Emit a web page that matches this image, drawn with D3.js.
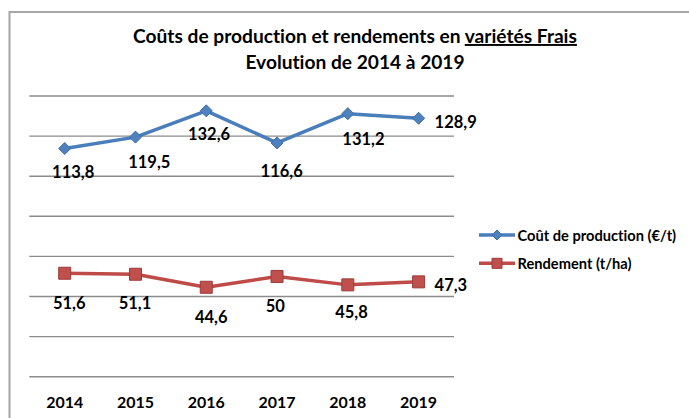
<!DOCTYPE html>
<html><head><meta charset="utf-8">
<script src="https://cdn.jsdelivr.net/npm/d3@7"></script>
<style>body{margin:0;background:#fff}svg{display:block}text{font-family:Lato,"Open Sans",sans-serif;font-weight:bold;fill:#000;font-variant-ligatures:none;font-feature-settings:"liga" 0}</style>
</head><body><svg id="c" width="689" height="418"></svg>
<script>
const years = ["2014","2015","2016","2017","2018","2019"];
const cost = [113.8,119.5,132.6,116.6,131.2,128.9];
const yieldV = [51.6,51.1,44.6,50,45.8,47.3];
const yTicks = [0,20,40,60,80,100,120,140];
const seriesNames = ["Coût de production (€/t)","Rendement (t/ha)"];
const titleLine1a = "Coûts de production et rendements en ";
const titleLine1b = "variétés Frais";
const titleLine2 = "Evolution de 2014 à 2019";
// label nudges (layout only)
const costNudge = [[8.5,23],[13.8,25],[2.8,23.6],[4.6,27.6],[15.6,25.3]];
const yieldNudge = [[4.5,30],[-0.5,29],[5,29.4],[-1.7,29.7],[3.6,26.7]];

const svg = d3.select("#c");
const fmt = v => String(v).replace(".", ",");
function fit(sel, target){
  sel.style("font-size","20px");
  const w = sel.node().getComputedTextLength();
  sel.style("font-size", (20*target/w).toFixed(2)+"px");
}

// frame
svg.append("rect").attr("x",9.5).attr("y",12).attr("width",900).attr("height",600)
  .attr("fill","none").attr("stroke","#a6a6a6").attr("stroke-width",2);

const x = d3.scaleBand().domain(years).range([29.3,454]).padding(0);
const y = d3.scaleLinear().domain([0,140]).range([376.7,96]);
const cx = d => x(d)+x.bandwidth()/2;

// gridlines
svg.append("g").selectAll("line").data(yTicks).join("line")
  .attr("x1",x.range()[0]).attr("x2",x.range()[1])
  .attr("y1",d=>y(d)).attr("y2",d=>y(d))
  .attr("stroke","#8c8c8c").attr("stroke-width",1.4);

// x axis labels
const xa = svg.append("g").attr("transform","translate(0,407.5)")
  .call(d3.axisBottom(x).tickSize(0).tickPadding(0));
xa.select(".domain").remove();
xa.selectAll("text").attr("dy",0).style("font-family","Lato").style("font-weight","bold").style("fill","#000");
xa.selectAll("text").each(function(){ fit(d3.select(this), 37); });

// title
const t1 = svg.append("text").attr("x",355).attr("y",43).attr("text-anchor","middle");
t1.append("tspan").text(titleLine1a);
t1.append("tspan").attr("text-decoration","underline").style("text-decoration","underline").text(titleLine1b);
fit(t1, 444);
const t2 = svg.append("text").attr("x",355).attr("y",69).attr("text-anchor","middle").text(titleLine2)
  .style("font-size", t1.style("font-size"));

const line = d3.line().x((d,i)=>cx(years[i])).y(d=>y(d));
const blue = "#4A7EBB", red = "#BE4B48";
const diamond = (px,py,r) => `M${px},${py-r}L${px+r},${py}L${px},${py+r}L${px-r},${py}Z`;
const square = (px,py,r) => `M${px-r},${py-r}h${2*r}v${2*r}h${-2*r}Z`;

svg.append("path").datum(cost).attr("d",line).attr("fill","none").attr("stroke",blue).attr("stroke-width",3.5).attr("stroke-linejoin","round");
svg.append("g").selectAll("path").data(cost).join("path")
  .attr("d",(d,i)=>diamond(cx(years[i]),y(d),6)).attr("fill","#4F81BD").attr("stroke","#3D6BA5").attr("stroke-width",1);

svg.append("path").datum(yieldV).attr("d",line).attr("fill","none").attr("stroke",red).attr("stroke-width",3.5).attr("stroke-linejoin","round");
svg.append("g").selectAll("path").data(yieldV).join("path")
  .attr("d",(d,i)=>square(cx(years[i]),y(d),6)).attr("fill","#C0504D").attr("stroke","#9C3B38").attr("stroke-width",1);

// data labels
function labels(vals, nudge){
  const g = svg.append("g");
  vals.forEach((v,i)=>{
    const px = cx(years[i]), py = y(v);
    const t = g.append("text").text(fmt(v)).attr("dominant-baseline","central").style("font-size","16.5px");
    if(i < nudge.length){
      t.attr("x",px+nudge[i][0]).attr("y",py+nudge[i][1]).attr("text-anchor","middle");
    } else {
      t.attr("x",px+16).attr("y",py+3.4).attr("text-anchor","start");
    }
  });
}
labels(cost, costNudge);
labels(yieldV, yieldNudge);

// legend
const lg = svg.append("g");
const legY = [235, 263.3];
const cols = [blue, red];
seriesNames.forEach((n,i)=>{
  lg.append("line").attr("x1",479).attr("x2",515).attr("y1",legY[i]).attr("y2",legY[i]).attr("stroke",cols[i]).attr("stroke-width",3.5);
  lg.append("path").attr("d", i===0 ? diamond(497,legY[i],5) : square(497,legY[i],5))
    .attr("fill", i===0?"#4F81BD":"#C0504D").attr("stroke", i===0?"#3D6BA5":"#9C3B38");
  const t = lg.append("text").attr("x",517.5).attr("y",legY[i]).attr("dominant-baseline","central").text(n);
  if(i===0) fit(t,158.7);
});
lg.selectAll("text").filter((d,i)=>i===1).style("font-size", lg.select("text").style("font-size"));
</script></body></html>
